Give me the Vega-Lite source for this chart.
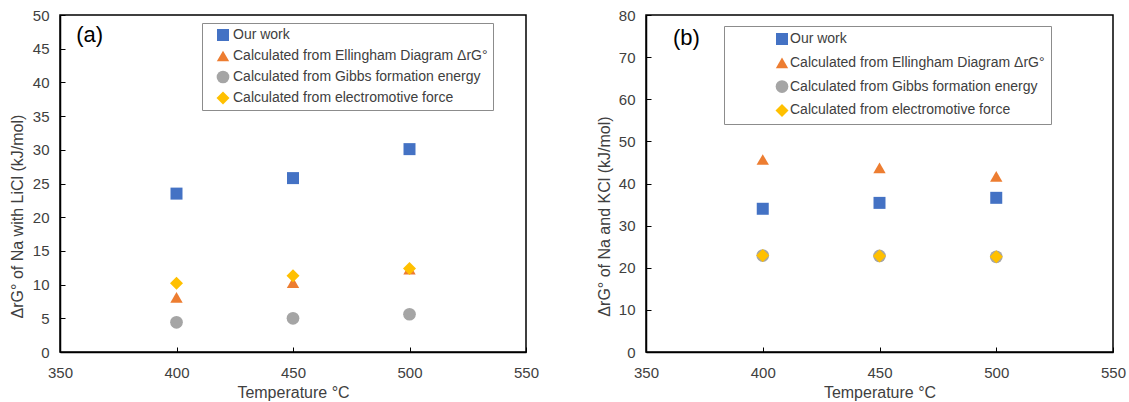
{
  "$schema": "https://vega.github.io/schema/vega-lite/v6.json",
  "padding": {"left": 8, "top": 7, "right": 5, "bottom": 2},
  "spacing": 120,
  "bounds": "flush",
  "datasets": {
    "a": [
      {"temp": 400, "dG": 23.5, "series": "Our work"},
      {"temp": 450, "dG": 25.8, "series": "Our work"},
      {"temp": 500, "dG": 30.1, "series": "Our work"},
      {"temp": 400, "dG": 8.1, "series": "Calculated from Ellingham Diagram ΔrG°"},
      {"temp": 450, "dG": 10.3, "series": "Calculated from Ellingham Diagram ΔrG°"},
      {"temp": 500, "dG": 12.3, "series": "Calculated from Ellingham Diagram ΔrG°"},
      {"temp": 400, "dG": 4.4, "series": "Calculated from Gibbs formation energy"},
      {"temp": 450, "dG": 5.0, "series": "Calculated from Gibbs formation energy"},
      {"temp": 500, "dG": 5.6, "series": "Calculated from Gibbs formation energy"},
      {"temp": 400, "dG": 10.2, "series": "Calculated from electromotive force"},
      {"temp": 450, "dG": 11.3, "series": "Calculated from electromotive force"},
      {"temp": 500, "dG": 12.4, "series": "Calculated from electromotive force"}
    ],
    "b": [
      {"temp": 400, "dG": 34.0, "series": "Our work"},
      {"temp": 450, "dG": 35.4, "series": "Our work"},
      {"temp": 500, "dG": 36.6, "series": "Our work"},
      {"temp": 400, "dG": 45.7, "series": "Calculated from Ellingham Diagram ΔrG°"},
      {"temp": 450, "dG": 43.7, "series": "Calculated from Ellingham Diagram ΔrG°"},
      {"temp": 500, "dG": 41.7, "series": "Calculated from Ellingham Diagram ΔrG°"},
      {"temp": 400, "dG": 22.9, "series": "Calculated from Gibbs formation energy"},
      {"temp": 450, "dG": 22.8, "series": "Calculated from Gibbs formation energy"},
      {"temp": 500, "dG": 22.6, "series": "Calculated from Gibbs formation energy"},
      {"temp": 400, "dG": 22.9, "series": "Calculated from electromotive force"},
      {"temp": 450, "dG": 22.8, "series": "Calculated from electromotive force"},
      {"temp": 500, "dG": 22.6, "series": "Calculated from electromotive force"}
    ]
  },
  "hconcat": [
    {
      "width": 466,
      "height": 337,
      "layer": [
        {
          "data": {"name": "a"},
          "mark": {"type": "point", "filled": true, "opacity": 1, "strokeWidth": 0},
          "encoding": {
            "x": {"field": "temp", "type": "quantitative", "scale": {"domain": [350, 550], "nice": false, "zero": false}, "axis": {"values": [350, 400, 450, 500, 550], "title": "Temperature °C"}},
            "y": {"field": "dG", "type": "quantitative", "scale": {"domain": [0, 50], "nice": false}, "axis": {"values": [0, 5, 10, 15, 20, 25, 30, 35, 40, 45, 50], "title": "ΔrG° of Na with LiCl (kJ/mol)", "titleX": -43, "titleY": 201}},
            "color": {"field": "series", "type": "nominal", "scale": {"domain": ["Our work", "Calculated from Ellingham Diagram ΔrG°", "Calculated from Gibbs formation energy", "Calculated from electromotive force"], "range": ["#4472C4", "#ED7D31", "#A5A5A5", "#FFC000"]}, "legend": {"legendX": 142, "legendY": 8, "padding": 5, "rowPadding": 7, "symbolOffset": 9, "labelOffset": 3}},
            "shape": {"field": "series", "type": "nominal", "scale": {"domain": ["Our work", "Calculated from Ellingham Diagram ΔrG°", "Calculated from Gibbs formation energy", "Calculated from electromotive force"], "range": ["square", "triangle-up", "circle", "diamond"]}, "legend": {"legendX": 142, "legendY": 8, "padding": 5, "rowPadding": 7, "symbolOffset": 9, "labelOffset": 3}},
            "size": {"field": "series", "type": "nominal", "scale": {"domain": ["Our work", "Calculated from Ellingham Diagram ΔrG°", "Calculated from Gibbs formation energy", "Calculated from electromotive force"], "range": [144, 170, 169, 121]}, "legend": null}
          }
        },
        {
          "data": {"values": [{"label": "(a)"}]},
          "mark": {"type": "text", "fontSize": 22, "font": "Liberation Sans", "color": "#000"},
          "encoding": {
            "x": {"datum": 362.7, "type": "quantitative", "axis": {"values": [350, 400, 450, 500, 550], "title": "Temperature °C"}},
            "y": {"datum": 47.0, "type": "quantitative", "axis": {"values": [0, 5, 10, 15, 20, 25, 30, 35, 40, 45, 50], "title": "ΔrG° of Na with LiCl (kJ/mol)", "titleX": -43, "titleY": 201}},
            "text": {"field": "label"}
          }
        }
      ]
    },
    {
      "width": 467,
      "height": 337,
      "layer": [
        {
          "data": {"name": "b"},
          "mark": {"type": "point", "filled": true, "opacity": 1, "strokeWidth": 0},
          "encoding": {
            "x": {"field": "temp", "type": "quantitative", "scale": {"domain": [350, 550], "nice": false, "zero": false}, "axis": {"values": [350, 400, 450, 500, 550], "title": "Temperature °C"}},
            "y": {"field": "dG", "type": "quantitative", "scale": {"domain": [0, 80], "nice": false}, "axis": {"values": [0, 10, 20, 30, 40, 50, 60, 70, 80], "title": "ΔrG° of Na and KCl (kJ/mol)", "titleX": -42, "titleY": 201}},
            "color": {"field": "series", "type": "nominal", "scale": {"domain": ["Our work", "Calculated from Ellingham Diagram ΔrG°", "Calculated from Gibbs formation energy", "Calculated from electromotive force"], "range": ["#4472C4", "#ED7D31", "#A5A5A5", "#FFC000"]}, "legend": {"legendX": 78, "legendY": 11, "padding": 6, "rowPadding": 9.8, "symbolOffset": 45, "labelOffset": 1}},
            "shape": {"field": "series", "type": "nominal", "scale": {"domain": ["Our work", "Calculated from Ellingham Diagram ΔrG°", "Calculated from Gibbs formation energy", "Calculated from electromotive force"], "range": ["square", "triangle-up", "circle", "diamond"]}, "legend": {"legendX": 78, "legendY": 11, "padding": 6, "rowPadding": 9.8, "symbolOffset": 45, "labelOffset": 1}},
            "size": {"field": "series", "type": "nominal", "scale": {"domain": ["Our work", "Calculated from Ellingham Diagram ΔrG°", "Calculated from Gibbs formation energy", "Calculated from electromotive force"], "range": [144, 170, 169, 121]}, "legend": null}
          }
        },
        {
          "data": {"values": [{"label": "(b)"}]},
          "mark": {"type": "text", "fontSize": 22, "font": "Liberation Sans", "color": "#000"},
          "encoding": {
            "x": {"datum": 367.3, "type": "quantitative", "axis": {"values": [350, 400, 450, 500, 550], "title": "Temperature °C"}},
            "y": {"datum": 74.6, "type": "quantitative", "axis": {"values": [0, 10, 20, 30, 40, 50, 60, 70, 80], "title": "ΔrG° of Na and KCl (kJ/mol)", "titleX": -42, "titleY": 201}},
            "text": {"field": "label"}
          }
        }
      ]
    }
  ],
  "resolve": {
    "scale": {"x": "independent", "y": "independent", "color": "independent", "shape": "independent", "size": "independent"},
    "legend": {"color": "independent", "shape": "independent"}
  },
  "config": {
    "font": "Liberation Sans",
    "view": {"stroke": "#000", "strokeWidth": 1.5},
    "axis": {
      "grid": false,
      "domainColor": "#000",
      "domainWidth": 1.5,
      "tickColor": "#000",
      "tickWidth": 1,
      "tickSize": -5,
      "labelPadding": 16,
      "labelOverlap": false,
      "labelFlush": false,
      "labelFont": "Liberation Sans",
      "labelFontSize": 15,
      "labelColor": "#404040",
      "titleFont": "Liberation Sans",
      "titleFontSize": 16,
      "titleFontWeight": "normal",
      "titleColor": "#404040"
    },
    "axisX": {"labelPadding": 18, "titlePadding": 4},
    "axisY": {"titleBaseline": "middle", "titleAlign": "center", "titleFontSize": 16},
    "legend": {
      "orient": "none",
      "title": null,
      "fillColor": "#ffffff",
      "strokeColor": "#8c8c8c",
      "symbolSize": 70,
      "symbolOpacity": 1,
      "symbolStrokeWidth": 0,
      "labelFont": "Liberation Sans",
      "labelFontSize": 14,
      "labelColor": "#404040",
      "labelLimit": 400
    }
  }
}
